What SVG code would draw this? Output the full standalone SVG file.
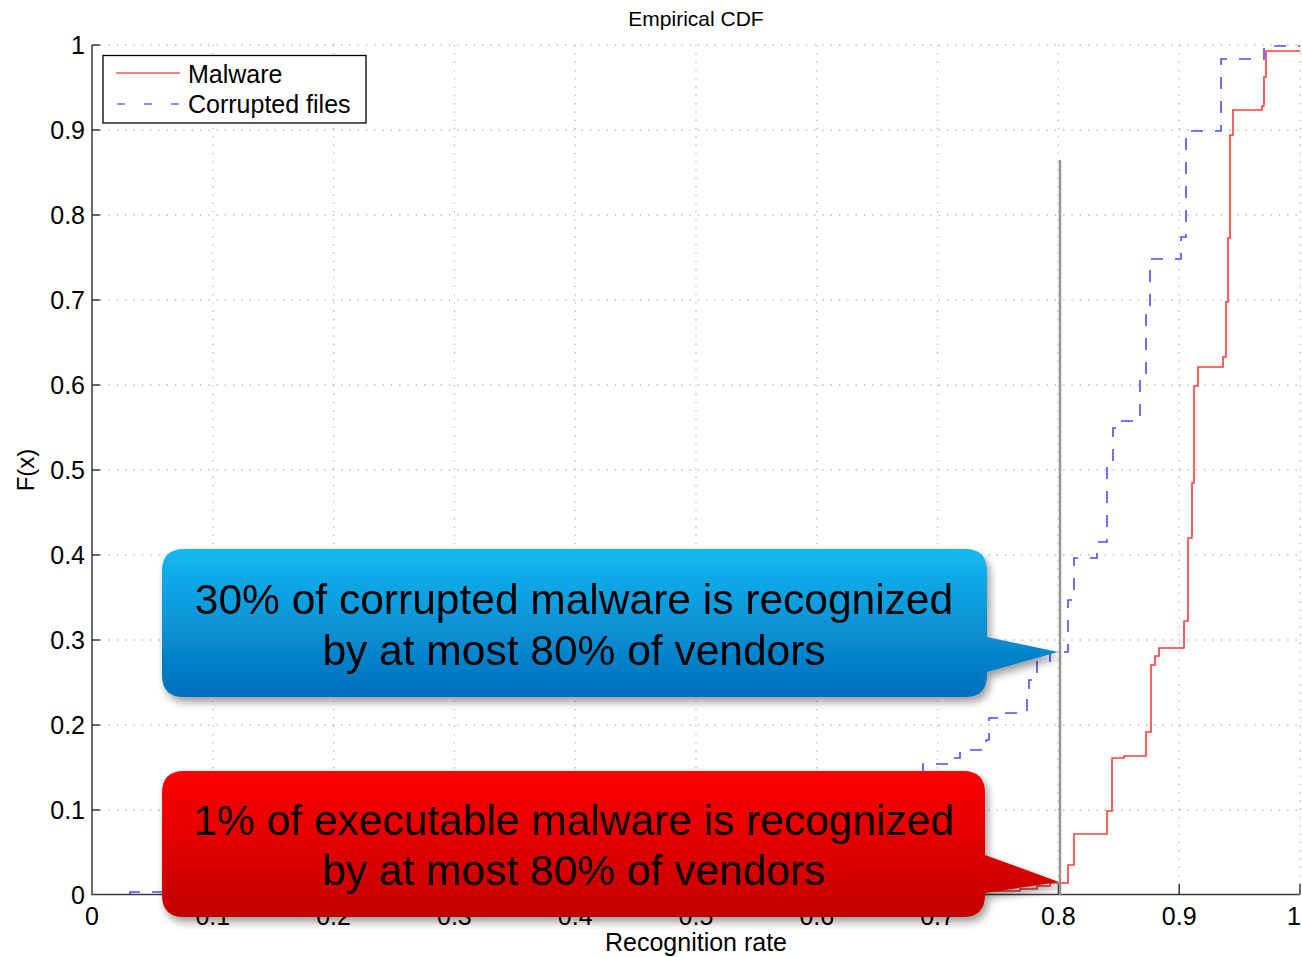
<svg xmlns="http://www.w3.org/2000/svg" width="1302" height="957" viewBox="0 0 1302 957">
  <style>
    text { font-family: "Liberation Sans", Arial, Helvetica, sans-serif; fill: #000; }
    .tick { font-size: 25px; }
    .ylab { text-anchor: end; }
    .xlab { text-anchor: middle; }
    .grid line { stroke: #b4b4b4; stroke-width: 1.3; stroke-dasharray: 1.3 7; }
    .axis { stroke: #3a3a3a; stroke-width: 1.5; fill: none; }
    .callout-text { font-size: 42.5px; text-anchor: middle; }
  </style>
  <defs>
    <linearGradient id="gradBlue" x1="0" y1="0" x2="0" y2="1">
      <stop offset="0" stop-color="#14b8f2"/>
      <stop offset="1" stop-color="#006fbb"/>
    </linearGradient>
    <linearGradient id="gradRed" x1="0" y1="0" x2="0" y2="1">
      <stop offset="0" stop-color="#ff0000"/>
      <stop offset="1" stop-color="#c20000"/>
    </linearGradient>
    <filter id="shadow" x="-5%" y="-10%" width="115%" height="130%">
      <feGaussianBlur in="SourceAlpha" stdDeviation="4"/>
      <feOffset dx="3" dy="5" result="blur"/>
      <feComponentTransfer><feFuncA type="linear" slope="0.4"/></feComponentTransfer>
      <feMerge><feMergeNode/><feMergeNode in="SourceGraphic"/></feMerge>
    </filter>
  </defs>

  <rect width="1302" height="957" fill="#fff"/>

  <!-- dotted grid every 0.1 -->
  <g id="grid" class="grid">
    <line x1="212.8" y1="45" x2="212.8" y2="894"/>
    <line x1="333.6" y1="45" x2="333.6" y2="894"/>
    <line x1="454.4" y1="45" x2="454.4" y2="894"/>
    <line x1="575.2" y1="45" x2="575.2" y2="894"/>
    <line x1="696" y1="45" x2="696" y2="894"/>
    <line x1="816.8" y1="45" x2="816.8" y2="894"/>
    <line x1="937.6" y1="45" x2="937.6" y2="894"/>
    <line x1="1058.4" y1="45" x2="1058.4" y2="894"/>
    <line x1="1179.2" y1="45" x2="1179.2" y2="894"/>
    <line x1="1300" y1="45" x2="1300" y2="894"/>
    <line x1="92" y1="810" x2="1300" y2="810"/>
    <line x1="92" y1="725" x2="1300" y2="725"/>
    <line x1="92" y1="640" x2="1300" y2="640"/>
    <line x1="92" y1="555" x2="1300" y2="555"/>
    <line x1="92" y1="470" x2="1300" y2="470"/>
    <line x1="92" y1="385" x2="1300" y2="385"/>
    <line x1="92" y1="300" x2="1300" y2="300"/>
    <line x1="92" y1="215" x2="1300" y2="215"/>
    <line x1="92" y1="130" x2="1300" y2="130"/>
    <line x1="92" y1="45" x2="1300" y2="45"/>
  </g>

  <!-- empirical CDF curves -->
  <g id="curves" fill="none" stroke-width="1.6">
    <path id="curve-malware" stroke="#ff3a3a" d="M860 894 V893 H940 V892 H985 V891 H1020 V889 H1037 V886 H1050 V883 H1068 V865 H1074 V834 H1107 V811 H1112 V758 H1124 V756 H1146 V732 H1151 V665 H1155 V656 H1159 V648 H1184 V621 H1188 V538 H1192 V483 H1194 V386 H1198 V367 H1223 V357 H1226 V302 H1228 V238 H1230 V135 H1233 V110 H1262 V106 H1264 V77 H1266 V51 H1300"/>
    <path id="curve-corrupted" stroke="#4a4aff" stroke-dasharray="12 12" d="M130 894 V892 H330 V889 H520 V884 H650 V877 H760 V862 H850 V820 H900 V790 H923 V764 H950 V758 H960 V750 H986 V740 H989 V718 H1005 V713 H1027 V690 H1029 V680 H1037 V662 H1050 V652 H1068 V600 H1074 V558 H1097 V542 H1107 V463 H1113 V428 H1118 V421 H1140 V380 H1146 V315 H1150 V259 H1181 V237 H1186 V131 H1221 V59 H1264 V46 H1300"/>
  </g>

  <!-- axes, ticks and tick labels -->
  <g id="axes">
    <path class="axis" d="M92 45 V894.5 H1300"/>
    <path class="axis" d="M92 810 h8 M92 725 h8 M92 640 h8 M92 555 h8 M92 470 h8 M92 385 h8 M92 300 h8 M92 215 h8 M92 130 h8 M92 45 h8
      M212.8 894 v-10 M333.6 894 v-10 M454.4 894 v-10 M575.2 894 v-10 M696 894 v-10 M816.8 894 v-10 M937.6 894 v-10 M1058.4 894 v-10 M1179.2 894 v-10 M1300 894 v-10"/>
    <g class="tick ylab">
      <text x="85" y="904">0</text>
      <text x="85" y="819">0.1</text>
      <text x="85" y="734">0.2</text>
      <text x="85" y="649">0.3</text>
      <text x="85" y="564">0.4</text>
      <text x="85" y="479">0.5</text>
      <text x="85" y="394">0.6</text>
      <text x="85" y="309">0.7</text>
      <text x="85" y="224">0.8</text>
      <text x="85" y="139">0.9</text>
      <text x="85" y="54">1</text>
    </g>
    <g class="tick xlab">
      <text x="92" y="925">0</text>
      <text x="212.8" y="925">0.1</text>
      <text x="333.6" y="925">0.2</text>
      <text x="454.4" y="925">0.3</text>
      <text x="575.2" y="925">0.4</text>
      <text x="696" y="925">0.5</text>
      <text x="816.8" y="925">0.6</text>
      <text x="937.6" y="925">0.7</text>
      <text x="1058.4" y="925">0.8</text>
      <text x="1179.2" y="925">0.9</text>
      <text x="1294" y="925">1</text>
    </g>
    <text x="696" y="26" font-size="21" text-anchor="middle">Empirical CDF</text>
    <text x="696" y="951" font-size="25" text-anchor="middle">Recognition rate</text>
    <text transform="translate(34 470) rotate(-90)" font-size="24" text-anchor="middle">F(x)</text>
  </g>

  <!-- 80% threshold marker -->
  <line id="threshold" x1="1060" y1="160" x2="1060" y2="895" stroke="#9c9690" stroke-width="2.5"/>

  <!-- legend -->
  <g id="legend">
    <rect x="103" y="55.5" width="263" height="67.5" fill="#fff" stroke="#000" stroke-width="1.3"/>
    <line x1="116" y1="73" x2="180" y2="73" stroke="#ff5a5a" stroke-width="1.6"/>
    <line x1="116" y1="104" x2="180" y2="104" stroke="#6a6aff" stroke-width="1.6" stroke-dasharray="8 19" stroke-dashoffset="-1"/>
    <text x="188" y="83" font-size="25">Malware</text>
    <text x="188" y="113" font-size="25">Corrupted files</text>
  </g>

  <!-- callout: corrupted files -->
  <g id="callout-corrupted" filter="url(#shadow)">
    <path fill="url(#gradBlue)" d="M184 549 H965 Q987 549 987 571 V637 L1058 652 L987 672 V675 Q987 697 965 697 H184 Q162 697 162 675 V571 Q162 549 184 549 Z"/>
    <text class="callout-text" x="574" y="614">30% of corrupted malware is recognized</text>
    <text class="callout-text" x="574" y="665">by at most 80% of vendors</text>
  </g>

  <!-- callout: executable malware -->
  <g id="callout-malware" filter="url(#shadow)">
    <path fill="url(#gradRed)" d="M184 771 H963 Q985 771 985 793 V855 L1059 882 L985 893 V895 Q985 917 963 917 H184 Q162 917 162 895 V793 Q162 771 184 771 Z"/>
    <text class="callout-text" x="574" y="835">1% of executable malware is recognized</text>
    <text class="callout-text" x="574" y="885">by at most 80% of vendors</text>
  </g>
</svg>
